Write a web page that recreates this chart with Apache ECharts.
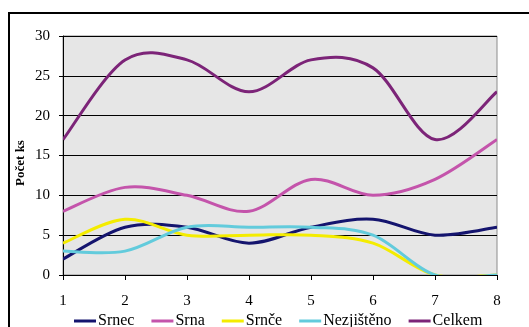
<!DOCTYPE html>
<html>
<head>
<meta charset="utf-8">
<script src="https://cdn.jsdelivr.net/npm/echarts@6/dist/echarts.min.js"></script>
<style>
  html, body { margin: 0; padding: 0; background: #fff; }
  #chart { width: 529px; height: 327px; }
</style>
</head>
<body>
<div id="chart"></div>
<script>
// Počty kusů podle kategorie v jednotlivých odběrech
const categories = ['1', '2', '3', '4', '5', '6', '7', '8'];
const srnec      = [2, 6, 6, 4, 6, 7, 5, 6];
const srna       = [8, 11, 10, 8, 12, 10, 12, 17];
const srnce      = [4, 7, 5, 5, 5, 4, 0, 0];
const nezjisteno = [3, 3, 6, 6, 6, 5, 0, 0];
const celkem     = [17, 27, 27, 23, 27, 26, 17, 23];
const yTitle = 'Počet ks';

const FONT = 'Liberation Serif';

const seriesDefs = [
  { name: 'Srnec', data: srnec, color: '#14146e' },
  { name: 'Srna', data: srna, color: '#c454ab' },
  { name: 'Srnče', data: srnce, color: '#f4ec00' },
  { name: 'Nezjištěno', data: nezjisteno, color: '#62cbdc' },
  { name: 'Celkem', data: celkem, color: '#7c2478' }
];

// Smoothed curve through all points (cardinal spline, 1/6 tangents),
// drawn once per series from the axis-mapped coordinates.
function smoothRenderer(values, color) {
  return function (params, api) {
    if (params.dataIndex !== 0) return null;
    const pts = values.map((v, i) => api.coord([i, v]));
    const n = pts.length;
    let d = 'M' + pts[0][0] + ' ' + pts[0][1] + ' ';
    for (let i = 0; i < n - 1; i++) {
      const p0 = pts[Math.max(i - 1, 0)];
      const p1 = pts[i];
      const p2 = pts[i + 1];
      const p3 = pts[Math.min(i + 2, n - 1)];
      const c1x = p1[0] + (p2[0] - p0[0]) / 6;
      const c1y = p1[1] + (p2[1] - p0[1]) / 6;
      const c2x = p2[0] - (p3[0] - p1[0]) / 6;
      const c2y = p2[1] - (p3[1] - p1[1]) / 6;
      d += 'C' + [c1x, c1y, c2x, c2y, p2[0], p2[1]].join(' ') + ' ';
    }
    return {
      type: 'path',
      shape: { pathData: d },
      style: { fill: 'none', stroke: color, lineWidth: 3 }
    };
  };
}

const chart = echarts.init(document.getElementById('chart'), null, { renderer: 'canvas' });

chart.setOption({
  animation: false,
  backgroundColor: '#ffffff',
  textStyle: { fontFamily: FONT },
  graphic: [{
    type: 'rect',
    z: -10,
    silent: true,
    shape: { x: 9, y: 13, width: 700, height: 500 },
    style: { fill: 'none', stroke: '#000', lineWidth: 2 }
  }, {
    // vertical axis title
    type: 'text',
    x: 21,
    y: 163,
    rotation: Math.PI / 2,
    silent: true,
    style: {
      text: yTitle,
      fontFamily: FONT,
      fontSize: 13,
      fontWeight: 'bold',
      fill: '#000',
      align: 'center',
      verticalAlign: 'middle'
    }
  }],
  grid: {
    left: 63, right: 32, top: 36, bottom: 52,
    show: true,
    backgroundColor: '#e6e6e6',
    borderColor: '#8c8c8c',
    borderWidth: 1
  },
  legend: {
    left: 69,
    top: 308,
    itemWidth: 22,
    itemHeight: 3,
    itemGap: 17,
    icon: 'rect',
    textStyle: { fontFamily: FONT, fontSize: 16, color: '#000', padding: [0, 0, 0, -3] },
    data: seriesDefs.map(s => s.name)
  },
  xAxis: {
    type: 'category',
    data: categories,
    boundaryGap: false,
    axisLine: { lineStyle: { color: '#000', width: 1 } },
    axisTick: { show: true, length: 5, lineStyle: { color: '#000' } },
    axisLabel: { fontFamily: FONT, fontSize: 15, color: '#000', margin: 19 },
    splitLine: { show: false }
  },
  yAxis: {
    type: 'value',
    min: 0, max: 30, interval: 5,
    axisLine: { show: true, lineStyle: { color: '#000', width: 1 } },
    axisTick: { show: true, length: 4, lineStyle: { color: '#000' } },
    axisLabel: { fontFamily: FONT, fontSize: 15, color: '#000', margin: 13 },
    splitLine: { show: true, lineStyle: { color: '#000', width: 1 } }
  },
  series: seriesDefs.map(s => ({
    name: s.name,
    type: 'custom',
    coordinateSystem: 'cartesian2d',
    clip: true,
    encode: { x: 0, y: 1 },
    data: s.data.map((v, i) => [i, v]),
    itemStyle: { color: s.color },
    renderItem: smoothRenderer(s.data, s.color)
  }))
});
</script>
</body>
</html>
